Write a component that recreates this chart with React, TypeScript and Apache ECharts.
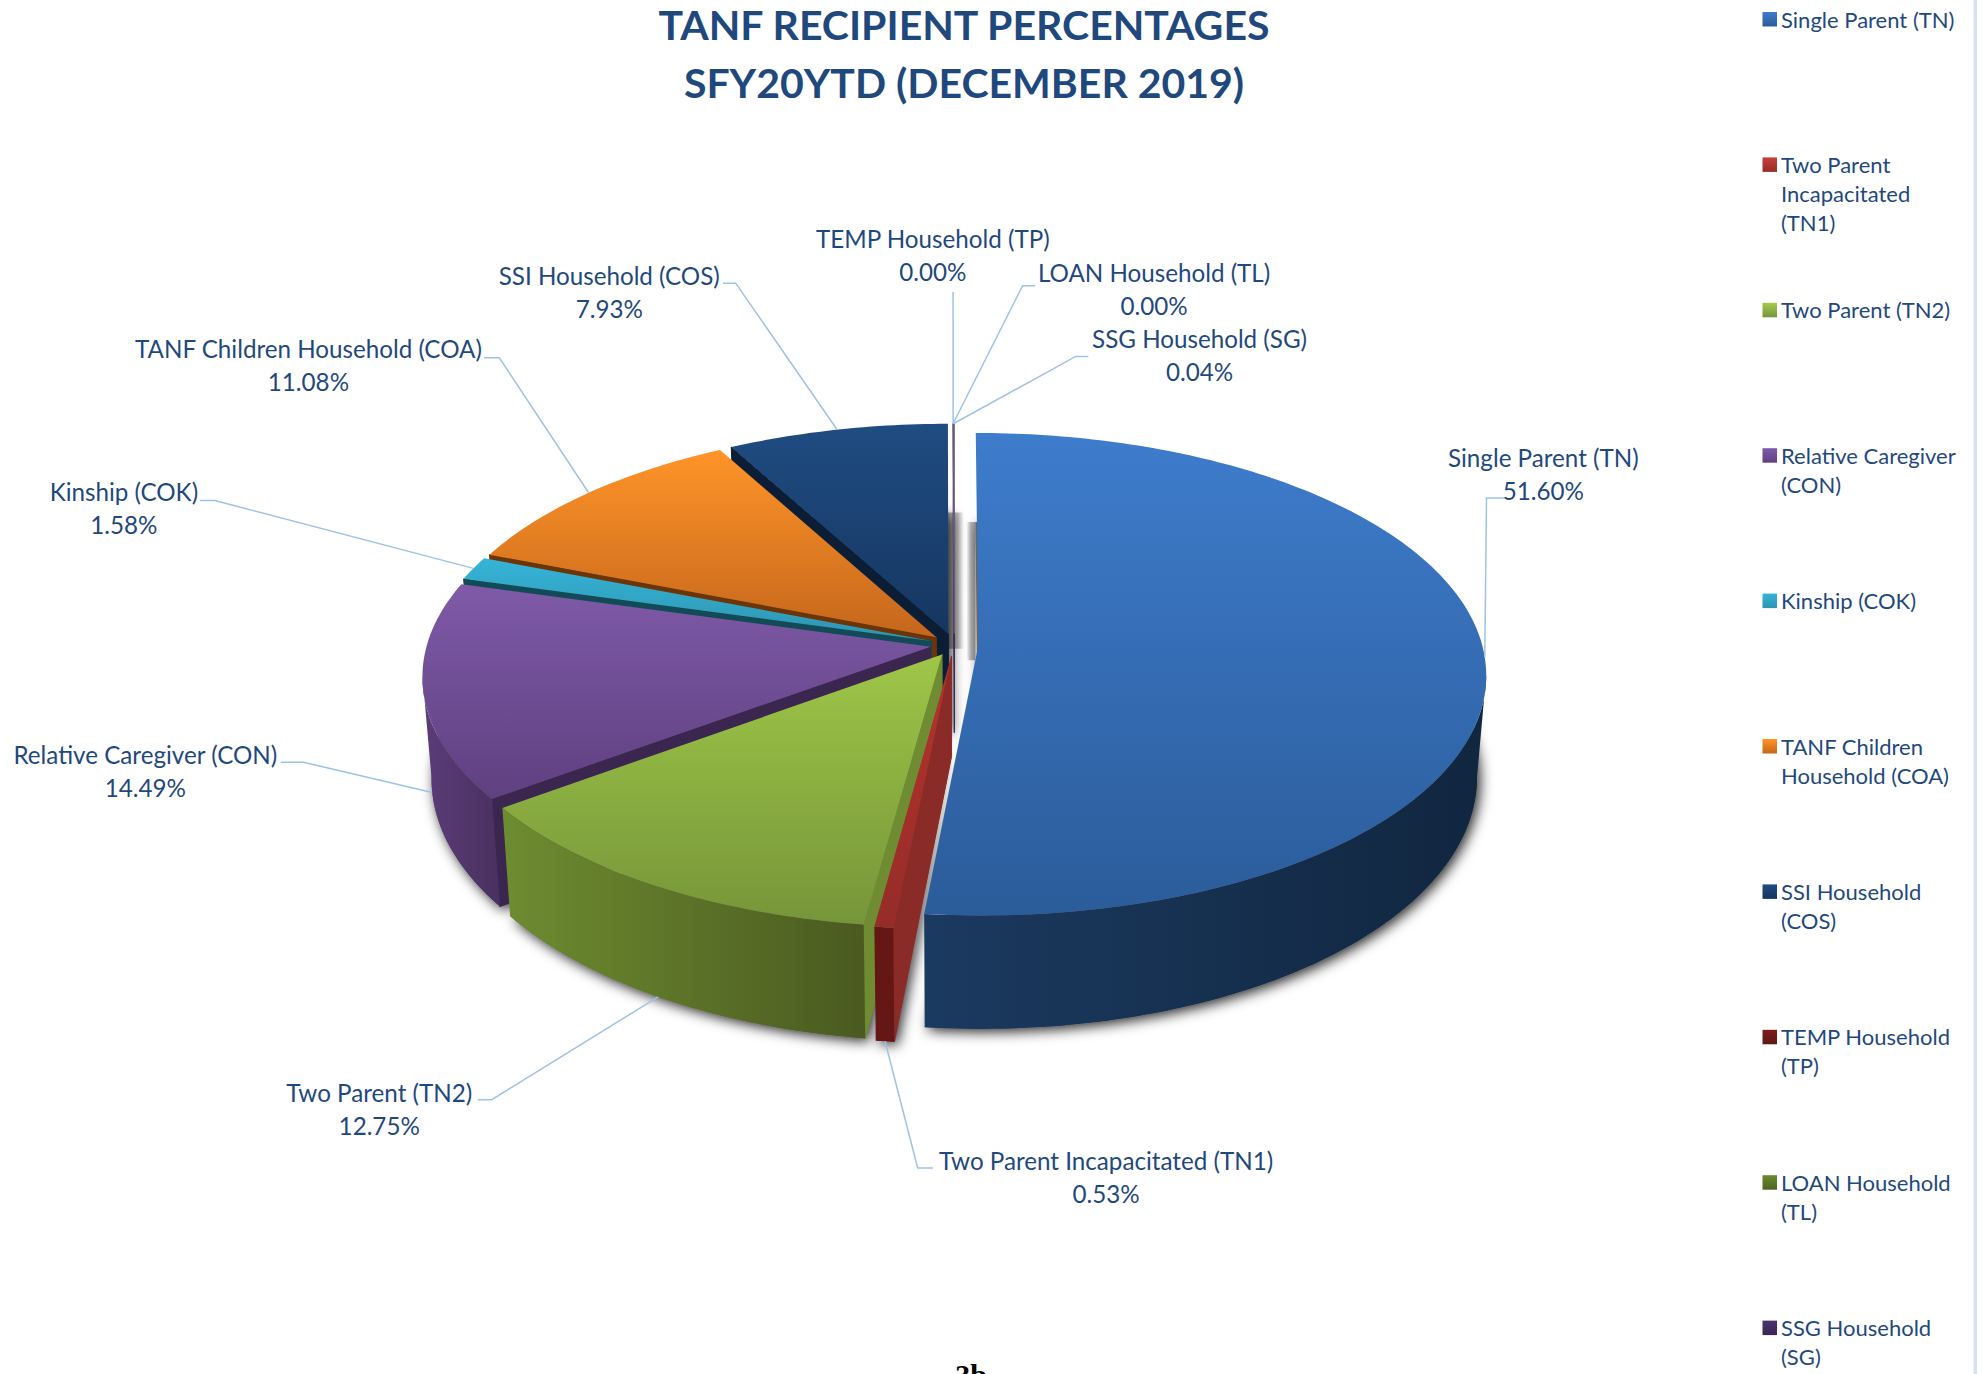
import React, { useEffect, useRef } from "react";
import * as echarts from "echarts";

const categories = [
  "Single Parent (TN)",
  "Two Parent Incapacitated (TN1)",
  "Two Parent (TN2)",
  "Relative Caregiver (CON)",
  "Kinship (COK)",
  "TANF Children Household (COA)",
  "SSI Household (COS)",
  "TEMP Household (TP)",
  "LOAN Household (TL)",
  "SSG Household (SG)",
];
const percentages = [51.6, 0.53, 12.75, 14.49, 1.58, 11.08, 7.93, 0, 0, 0.04];
const legendLines = [
  ["Single Parent (TN)"],
  ["Two Parent", "Incapacitated", "(TN1)"],
  ["Two Parent (TN2)"],
  ["Relative Caregiver", "(CON)"],
  ["Kinship (COK)"],
  ["TANF Children", "Household (COA)"],
  ["SSI Household", "(COS)"],
  ["TEMP Household", "(TP)"],
  ["LOAN Household", "(TL)"],
  ["SSG Household", "(SG)"],
];
const titleLines = ["TANF RECIPIENT PERCENTAGES", "SFY20YTD (DECEMBER 2019)"];

// Top-face gradient, rim-wall gradient, radial-wall colour, legend gradient
const topColors = [
  ["#3E7CCC", "#2B5C9A"], ["#B5332E", "#962C28"], ["#9FC647", "#76953A"], ["#7F5AA8", "#5F4080"],
  ["#35B4D8", "#2F94B0"], ["#FF9428", "#C4661C"], ["#1F4C82", "#163660"], ["#7C1E1A", "#5F1714"],
  ["#6B8A2E", "#4F6423"], ["#6E5C80", "#6E5C80"],
];
const rimColors = [
  ["#1B3A60", "#11263F"], ["#651716", "#651716"], ["#6E8C30", "#4A5A20"], ["#5A3D78", "#4A3060"],
  ["#1B5A6C", "#1B5A6C"], ["#7A3D0C", "#7A3D0C"], ["#0E2440", "#0E2440"], ["#5F1714", "#5F1714"],
  ["#4F6423", "#4F6423"], ["#3A2553", "#3A2553"],
];
const wallColors = ["#0F2540", "#8B2B28", "#6F8C32", "#3A264F", "#134A58", "#6B3508", "#0B1E36", "#5F1714", "#4F6423", "#3A2553"];
const legendColors = [
  ["#3E7CCC", "#2B5C9A"], ["#C9403A", "#962C28"], ["#A3CC4C", "#76953A"], ["#8059A8", "#5F4080"],
  ["#35B4D8", "#2F94B0"], ["#FF9428", "#C4661C"], ["#1F4C82", "#163660"], ["#7C1E1A", "#5F1714"],
  ["#6B8A2E", "#4F6423"], ["#4C3570", "#3A2553"],
];

const W = 1982, H = 1374;
const U = 1982 / 1568; // layout numbers below were read from the 1568-wide view
const TEXT = "#1F497D";
const FONT = "Lato";

// Label block centres and leader elbows (label layout, not data)
const labelCentres = [
  [1221, 375], [875, 931], [300, 877], [115, 610], [98, 402], [244, 289], [482, 231], [738, 201.5], [913, 229], [949, 281],
];
const leaderStarts = [
  [1190, 394], [738, 924], [378, 870], [222, 603], [158, 396], [383, 283], [572, 224], [754, 231], [819, 226], [861, 282],
];
const leaderElbows = [
  [1176, 394], [726, 924], [389, 870], [240, 603], [170, 396], [395, 283], [582, 224], [754, 231], [809, 226], [851, 282],
];

// 3-D projection of the exploded disc
const CX = 755 * U, CY = 510 * U, RX = 398.5 * U, RY = 188 * U, DEPTH = 79 * U;
const PERSP = 0.12, EXPLODE = 0.0477, SHRINK = 0.983, STEP = 1;

const total = percentages.reduce((a, b) => a + b, 0);
const spans: number[][] = [];
{
  let acc = 0;
  percentages.forEach((p) => {
    const a0 = (acc / total) * 360;
    acc += p;
    spans.push([a0, (acc / total) * 360]);
  });
}
const rad = (d: number) => (d * Math.PI) / 180;
const offsetOf = (i: number) => {
  const m = rad((spans[i][0] + spans[i][1]) / 2);
  return [EXPLODE * Math.sin(m), -EXPLODE * Math.cos(m)];
};
const project = (X: number, Y: number, low: boolean) => {
  const w = 1 - PERSP * Y;
  return [
    CX + ((RX * X) / w) * (low ? SHRINK : 1),
    CY + (RY * Y) / w + (low ? DEPTH / w : 0),
  ];
};
const rimPoint = (i: number, t: number, low: boolean) => {
  const [ox, oy] = offsetOf(i);
  return project(ox + Math.sin(rad(t)), oy - Math.cos(rad(t)), low);
};
const apexPoint = (i: number, low: boolean) => {
  const [ox, oy] = offsetOf(i);
  return project(ox, oy, low);
};
const arc = (i: number, a: number, b: number, low: boolean) => {
  const pts: number[][] = [];
  const n = Math.max(1, Math.ceil((b - a) / STEP));
  for (let j = 0; j <= n; j++) pts.push(rimPoint(i, a + ((b - a) * j) / n, low));
  return pts;
};
const vGrad = (c: string[]) => new echarts.graphic.LinearGradient(0, 0, 0, 1, [{ offset: 0, color: c[0] }, { offset: 1, color: c[1] }]);
const hGrad = (c: string[]) => new echarts.graphic.LinearGradient(0, 0, 1, 0, [{ offset: 0, color: c[0] }, { offset: 1, color: c[1] }]);

// Rim faces the viewer where the angle lies between these limits
const FACE_A = (Math.acos(-PERSP) * 180) / Math.PI;
const FACE_B = 360 - FACE_A;

const drawn = percentages.map((p, i) => i).filter((i) => percentages[i] > 0);
const paintOrder = [...drawn].sort((a, b) => offsetOf(a)[1] - offsetOf(b)[1]);

// Soft cast shadow in the gap at 12 o'clock, beside the two big slices' vertical edges
const gapShadow = (i: number, t: number, side: number, reach: number) => {
  const top = rimPoint(i, t, true);
  const y1 = apexPoint(i, false)[1] + 15;
  const x0 = top[0];
  const x1 = x0 + side * reach;
  const near = "rgba(0,0,0,0.36)", mid = "rgba(0,0,0,0.3)", far = "rgba(0,0,0,0)";
  const stops = side > 0
    ? [{ offset: 0, color: near }, { offset: 0.6, color: mid }, { offset: 1, color: far }]
    : [{ offset: 0, color: far }, { offset: 0.5, color: mid }, { offset: 1, color: near }];
  return {
    type: "polygon",
    shape: { points: [[x0, top[1]], [x1, top[1]], [x1, y1], [x0, y1]] },
    style: { fill: new echarts.graphic.LinearGradient(0, 0, 1, 0, stops) },
  };
};

const shadowItem = (params: any, api: any) => {
  const i = api.value(0);
  const [a, b] = spans[i];
  const children: any[] = [
    {
      type: "polygon",
      shape: { points: [apexPoint(i, true), ...arc(i, a, b, true)] },
      style: {
        fill: "#666",
        shadowColor: "rgba(0,0,0,0.85)",
        shadowBlur: 13,
        shadowOffsetX: 3,
        shadowOffsetY: 3,
      },
    },
  ];
  if (a === 0) children.push(gapShadow(i, a, -1, 9));
  if (percentages[i] > 1 && 360 - b < 1) children.push(gapShadow(i, b, 1, 16));
  return { type: "group", children };
};

const sliceItem = (params: any, api: any) => {
  const i = api.value(0);
  const [a, b] = spans[i];
  const children: any[] = [];
  const poly = (points: number[][], fill: any, stroke?: string) => ({
    type: "polygon",
    shape: { points },
    style: { fill, stroke: stroke || "none", lineWidth: stroke ? 1 : 0 },
  });
  const wall = (t: number) => poly([apexPoint(i, false), rimPoint(i, t, false), rimPoint(i, t, true), apexPoint(i, true)], wallColors[i], wallColors[i]);
  if (Math.sin(rad(a)) < -1e-6) children.push(wall(a));
  if (Math.sin(rad(b)) > 1e-6) children.push(wall(b));
  const fa = Math.max(a, FACE_A), fb = Math.min(b, FACE_B);
  if (fb > fa) {
    const upper = arc(i, fa, fb, false);
    const lower = arc(i, fa, fb, true).reverse();
    children.push(poly([...upper, ...lower], hGrad(rimColors[i])));
  }
  const thin = b - a < 0.5;
  children.push(poly([apexPoint(i, false), ...arc(i, a, b, false)], thin ? topColors[i][0] : vGrad(topColors[i]), thin ? topColors[i][0] : undefined));
  return { type: "group", children };
};

const leaderAnchor = (i: number) => {
  const m = (spans[i][0] + spans[i][1]) / 2;
  const low = m > FACE_A && m < FACE_B;
  return rimPoint(i, m, low);
};

const buildGraphics = () => {
  const els: any[] = [];
  categories.forEach((name, i) => {
    const [lx, ly] = labelCentres[i];
    const pts = [
      [leaderStarts[i][0] * U, leaderStarts[i][1] * U],
      [leaderElbows[i][0] * U, leaderElbows[i][1] * U],
      leaderAnchor(i),
    ];
    els.push({ type: "polyline", shape: { points: pts }, style: { stroke: "#9DC3E6", lineWidth: 1.5, fill: "none" }, z: 5 });
    els.push({
      type: "text",
      x: lx * U,
      y: ly * U,
      z: 6,
      style: {
        text: `${name}\n${percentages[i].toFixed(2)}%`,
        x: 0,
        y: 0,
        align: "center",
        verticalAlign: "middle",
        fill: TEXT,
        font: `24.2px ${FONT}`,
        lineHeight: 33,
      },
    });
  });
  legendLines.forEach((lines, i) => {
    const y0 = 19 + i * 145.4;
    els.push({ type: "rect", shape: { x: 1762.5, y: y0 - 7, width: 14.5, height: 14.5 }, style: { fill: vGrad(legendColors[i]) } });
    lines.forEach((ln, j) => {
      els.push({
        type: "text",
        x: 1781,
        y: y0 + j * 29,
        style: { text: ln, x: 0, y: 0, align: "left", verticalAlign: "middle", fill: TEXT, font: `22px ${FONT}` },
      });
    });
  });
  els.push({ type: "rect", shape: { x: 1973.5, y: 0, width: 3.5, height: H }, style: { fill: "#D4E3F5" } });
  els.push({
    type: "text",
    x: 971,
    y: 1359,
    style: { text: "3b", x: 0, y: 0, align: "center", verticalAlign: "top", fill: "#000", font: "bold 30px 'Liberation Serif'" },
  });
  return els;
};

export default function App() {
  const ref = useRef<HTMLDivElement>(null);
  useEffect(() => {
    const chart = echarts.init(ref.current!, undefined, { renderer: "svg" });
    chart.setOption({
      animation: false,
      backgroundColor: "#fff",
      title: {
        text: titleLines.join("\n"),
        left: 964,
        top: -5,
        padding: 0,
        textAlign: "center",
        textStyle: { color: TEXT, fontFamily: FONT, fontWeight: "bold", fontSize: 41, lineHeight: 58 },
      },
      series: [
        { type: "custom", coordinateSystem: "none", silent: true, z: 1, renderItem: shadowItem, data: paintOrder.map((i) => [i]) },
        { type: "custom", coordinateSystem: "none", silent: true, z: 2, renderItem: sliceItem, data: paintOrder.map((i) => [i]) },
      ],
      graphic: { elements: buildGraphics() },
    });
    return () => chart.dispose();
  }, []);
  return <div ref={ref} style={{ position: "fixed", left: 0, top: 0, width: W, height: H }} />;
}
